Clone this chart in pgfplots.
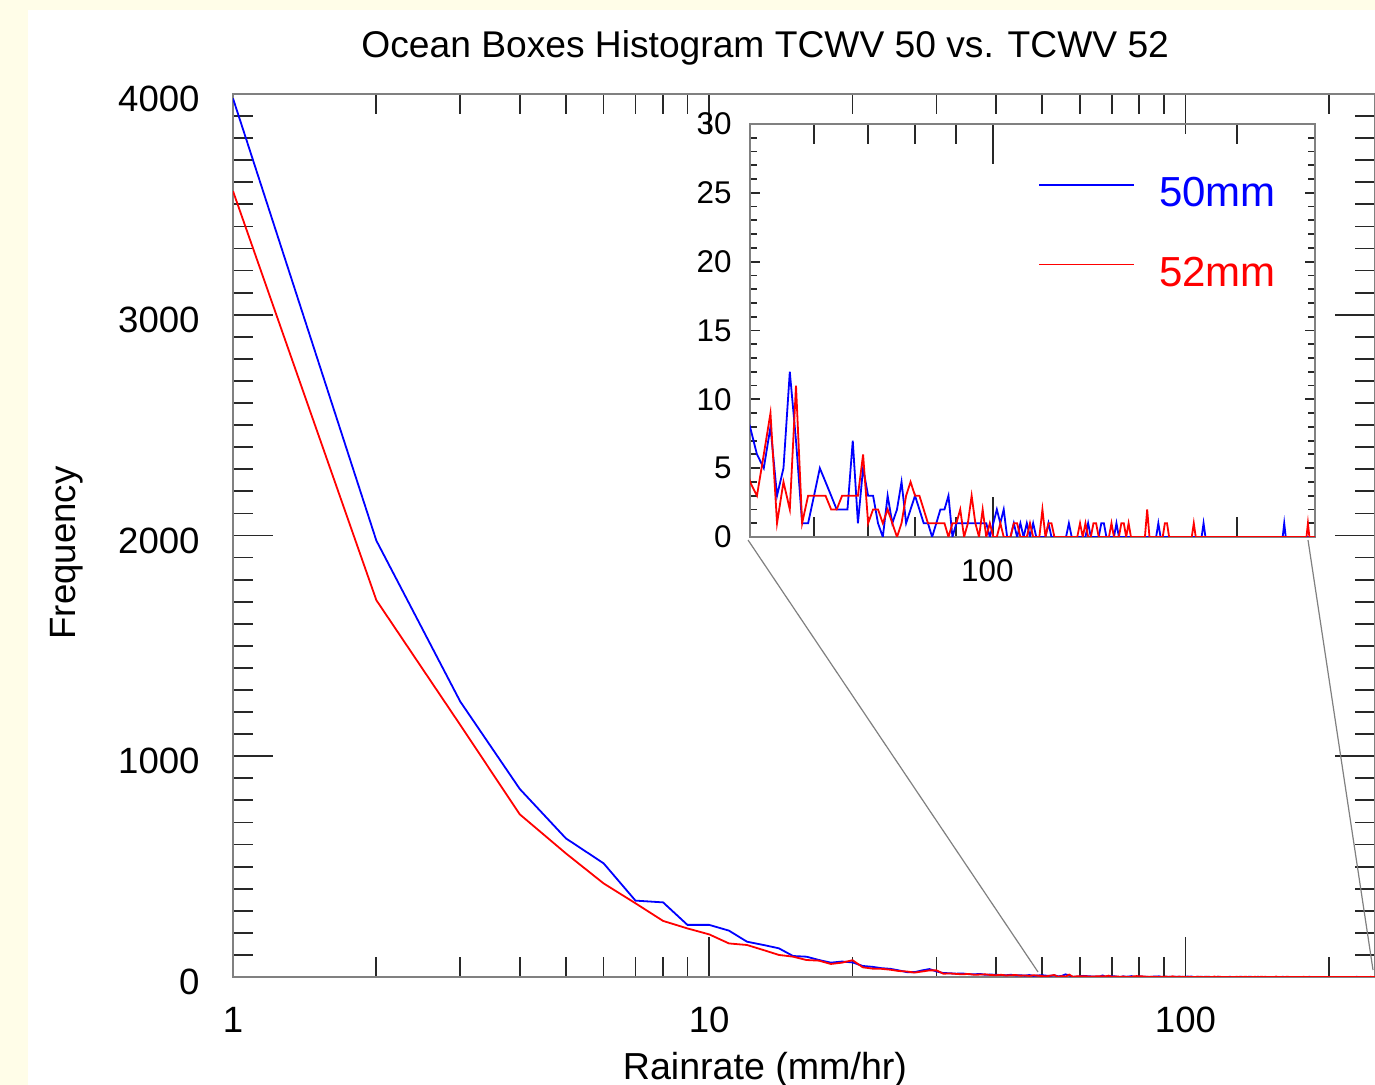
\documentclass[border=0pt]{standalone}
\usepackage{fontspec}
\setmainfont{Liberation Sans}
\usepackage{pgfplots}
\usepackage{pgfplotstable}
\pgfplotsset{compat=1.18}
\definecolor{bgy}{RGB}{255,253,232}
\definecolor{framegray}{RGB}{128,128,128}
\definecolor{tickblack}{RGB}{40,40,40}
\definecolor{legblue}{RGB}{0,0,255}
\definecolor{legred}{RGB}{255,0,0}

% Blue: TCWV 50 mm
\pgfplotstableread[row sep=\\]{
n v \\
1 3980 \\ 2 1977 \\ 3 1248 \\ 4 852 \\ 5 628 \\ 6 515 \\ 7 346 \\ 8 338 \\ 9 236 \\ 10 236 \\
11 210 \\ 12 160 \\ 13 145 \\ 14 130 \\ 15 95 \\ 16 92 \\ 17 77 \\ 18 65 \\ 19 70 \\ 20 66 \\
21 50 \\ 22 46 \\ 23 40 \\ 24 37 \\ 25 30 \\ 26 22 \\ 27 22 \\ 28 30 \\ 29 36 \\ 30 25 \\
31 18 \\ 32 17 \\ 33 15 \\ 34 16 \\ 35 13 \\ 36 12 \\ 37 14 \\ 38 10 \\ 39 11 \\ 40 10 \\
41 9 \\ 42 8 \\ 43 10 \\ 44 7 \\ 45 8 \\ 46 6 \\ 47 9 \\ 48 5 \\ 49 7 \\ 50 8 \\
51 6 \\ 52 5 \\ 53 8 \\ 54 3 \\ 55 5 \\ 56 12 \\ 57 7 \\ 58 1 \\ 59 1 \\ 60 3 \\
61 5 \\ 62 4 \\ 63 3 \\ 64 2 \\ 65 2 \\ 66 2 \\ 67 7 \\ 68 1 \\ 69 5 \\ 70 3 \\
71 3 \\ 72 1 \\ 73 0 \\ 74 3 \\ 75 1 \\ 76 2 \\ 77 4 \\ 78 1 \\ 79 2 \\ 80 3 \\
81 2 \\ 82 1 \\ 83 1 \\ 84 0 \\ 85 1 \\ 86 2 \\ 87 2 \\ 88 3 \\ 89 0 \\ 90 1 \\
91 1 \\ 92 1 \\ 93 1 \\ 94 1 \\ 95 1 \\ 96 1 \\ 97 1 \\ 98 1 \\ 99 0 \\ 100 1 \\
101 2 \\ 102 1 \\ 103 2 \\ 104 0 \\ 105 0 \\ 106 1 \\ 107 0 \\ 108 1 \\ 109 0 \\ 110 1 \\
111 0 \\ 112 1 \\ 113 0 \\ 116 0 \\ 117 1 \\ 118 0 \\ 123 0 \\ 124 1 \\ 125 0 \\
130 0 \\ 131 1 \\ 132 0 \\ 135 0 \\ 136 1 \\ 137 1 \\ 138 0 \\ 141 0 \\ 142 1 \\ 143 0 \\
159 0 \\ 160 1 \\ 161 0 \\ 181 0 \\ 182 1 \\ 183 0 \\ 228 0 \\ 229 1 \\ 230 0 \\ 250 0 \\
}\bluedata

% Red: TCWV 52 mm
\pgfplotstableread[row sep=\\]{
n v \\
1 3560 \\ 2 1707 \\ 3 1142 \\ 4 737 \\ 5 560 \\ 6 424 \\ 7 334 \\ 8 254 \\ 9 220 \\ 10 193 \\
11 152 \\ 12 145 \\ 13 122 \\ 14 100 \\ 15 92 \\ 16 77 \\ 17 74 \\ 18 59 \\ 19 65 \\ 20 76 \\
21 44 \\ 22 38 \\ 23 37 \\ 24 33 \\ 25 27 \\ 26 25 \\ 27 20 \\ 28 25 \\ 29 30 \\ 30 30 \\
31 15 \\ 32 16 \\ 33 14 \\ 34 12 \\ 35 14 \\ 36 10 \\ 37 11 \\ 38 12 \\ 39 9 \\ 40 8 \\
41 10 \\ 42 7 \\ 43 8 \\ 44 9 \\ 45 6 \\ 46 7 \\ 47 5 \\ 48 8 \\ 49 6 \\ 50 4 \\
51 3 \\ 52 6 \\ 53 9 \\ 54 1 \\ 55 4 \\ 56 2 \\ 57 11 \\ 58 1 \\ 59 3 \\ 60 3 \\
61 3 \\ 62 3 \\ 63 2 \\ 64 2 \\ 65 3 \\ 66 3 \\ 67 3 \\ 68 3 \\ 69 6 \\ 70 1 \\
71 2 \\ 72 2 \\ 73 1 \\ 74 2 \\ 75 1 \\ 76 0 \\ 77 1 \\ 78 3 \\ 79 4 \\ 80 3 \\
81 3 \\ 82 2 \\ 83 1 \\ 84 1 \\ 85 1 \\ 86 1 \\ 87 1 \\ 88 0 \\ 89 1 \\ 90 1 \\
91 2 \\ 92 0 \\ 93 1 \\ 94 3 \\ 95 1 \\ 96 0 \\ 97 2 \\ 98 0 \\ 99 1 \\ 100 0 \\
101 0 \\ 102 1 \\ 103 0 \\ 105 0 \\ 106 1 \\ 107 1 \\ 108 0 \\ 110 0 \\ 111 1 \\ 112 0 \\
114 0 \\ 115 2 \\ 116 0 \\ 117 1 \\ 118 1 \\ 119 0 \\ 127 0 \\ 128 1 \\ 129 0 \\ 130 1 \\
131 0 \\ 132 0 \\ 133 1 \\ 134 1 \\ 135 0 \\ 139 0 \\ 140 1 \\ 141 0 \\ 143 0 \\ 144 1 \\
145 1 \\ 146 0 \\ 147 1 \\ 148 0 \\ 154 0 \\ 155 2 \\ 156 0 \\ 162 0 \\ 163 1 \\ 164 1 \\
165 0 \\ 176 0 \\ 177 1 \\ 178 0 \\ 244 0 \\ 245 1 \\ 246 0 \\ 250 0 \\
}\reddata

\begin{document}
\begin{tikzpicture}
\useasboundingbox (0pt,0pt) rectangle (687.5pt,542.5pt);
\fill[bgy] (0pt,0pt) rectangle (687.5pt,542.5pt);
\fill[white] (14pt,0pt) rectangle (687.5pt,537.5pt);

% ---------------- main axis ----------------
\begin{axis}[
  at={(116.5pt,54pt)}, anchor=south west, scale only axis,
  width=571pt, height=441.5pt,
  xmode=log, xmin=1, xmax=250, ymin=0, ymax=4000,
  xtick={1,10,100}, xticklabels={1,10,100},
  minor xtick={2,3,4,5,6,7,8,9,20,30,40,50,60,70,80,90,200},
  ytick={0,1000,2000,3000,4000}, minor y tick num=9,
  scaled y ticks=false,
  /pgf/number format/1000 sep={},
  /pgf/number format/assume math mode=true,
  tick align=inside,
  major tick length=20pt, minor tick length=10pt,
  axis line style={draw=framegray, line width=1.3pt},
  every tick/.style={tickblack, line width=0.9pt},
  tick label style={font=\fontsize{18.3}{22}\selectfont},
  xticklabel style={anchor=base, yshift=-28pt},
  yticklabel style={anchor=east, inner sep=0pt, xshift=-16.5pt, yshift=-2.5pt},
  title={Ocean Boxes Histogram TCWV 50 vs. TCWV 52},
  title style={at={(axis description cs:0.466,1.0272)}, anchor=base, font=\fontsize{18.6}{22}\selectfont},
  xlabel={Rainrate (mm/hr)},
  xlabel style={at={(axis description cs:0.4658,-0.1166)}, anchor=base, font=\fontsize{18.8}{22}\selectfont},
  ylabel={Frequency},
  ylabel style={at={(axis description cs:-0.1375,0.4802)}, anchor=base, font=\fontsize{18.3}{22}\selectfont},
]
\addplot[blue, line width=0.9pt] table[x=n, y=v] {\bluedata};
\addplot[red, line width=0.9pt] table[x=n, y=v] {\reddata};
\end{axis}

% connector lines
\draw[framegray, line width=0.6pt] (374pt,272.5pt) -- (519pt,56.5pt);
\draw[framegray, line width=0.6pt] (654pt,272.5pt) -- (686.5pt,57.5pt);

% ---------------- inset: y ticks and labels ----------------
\begin{axis}[
  at={(375pt,274pt)}, anchor=south west, scale only axis,
  width=282.5pt, height=206.5pt,
  xmode=log, xmin=50, xmax=250, ymin=0, ymax=30,
  xtick=\empty,
  ytick={0,5,10,15,20,25,30}, minor y tick num=4,
  /pgf/number format/assume math mode=true,
  tick align=inside,
  major tick length=5pt, minor tick length=3.5pt,
  axis line style={draw=none},
  every tick/.style={tickblack, line width=0.9pt},
  yticklabel style={font=\fontsize{15.7}{19}\selectfont, anchor=east, inner sep=0pt, xshift=-9pt},
]
\addplot[draw=none, forget plot, restrict y to domain=0:40] table[x=n, y=v] {\bluedata};
\end{axis}

% ---------------- inset: curves, x ticks, legend ----------------
\begin{axis}[
  at={(375pt,274pt)}, anchor=south west, scale only axis,
  width=282.5pt, height=206.5pt,
  xmode=log, xmin=50, xmax=250, ymin=0, ymax=30,
  xtick={100}, xticklabels={100},
  minor xtick={60,70,80,90,200},
  ytick=\empty,
  tick align=inside,
  major tick length=20pt, minor tick length=10pt,
  axis line style={draw=framegray, line width=1pt},
  every tick/.style={tickblack, line width=0.9pt},
  xticklabel style={font=\fontsize{15.7}{19}\selectfont, anchor=base, yshift=-22.5pt, xshift=-3pt},
  legend style={at={(rel axis cs:0.5097,0.8717)}, anchor=north west, draw=none, fill=none,
    inner sep=0pt, row sep=25pt, column sep=12pt,
    nodes={inner sep=0pt, text depth=0pt},
    font=\fontsize{21}{25}\selectfont},
  legend cell align=left,
]
\addlegendimage{legend image code/.code={\draw[draw=legblue, line width=0.8pt] (0pt,3.5pt) -- (47.5pt,3.5pt);}}
\addlegendentry{\textcolor{legblue}{50mm}}
\addlegendimage{legend image code/.code={\draw[draw=legred, line width=0.8pt] (0pt,3.5pt) -- (47.5pt,3.5pt);}}
\addlegendentry{\textcolor{legred}{52mm}}
\addplot[blue, line width=0.9pt, restrict y to domain=0:40, forget plot] table[x=n, y=v] {\bluedata};
\addplot[red, line width=0.9pt, restrict y to domain=0:40, forget plot] table[x=n, y=v] {\reddata};
\end{axis}
\end{tikzpicture}
\end{document}
